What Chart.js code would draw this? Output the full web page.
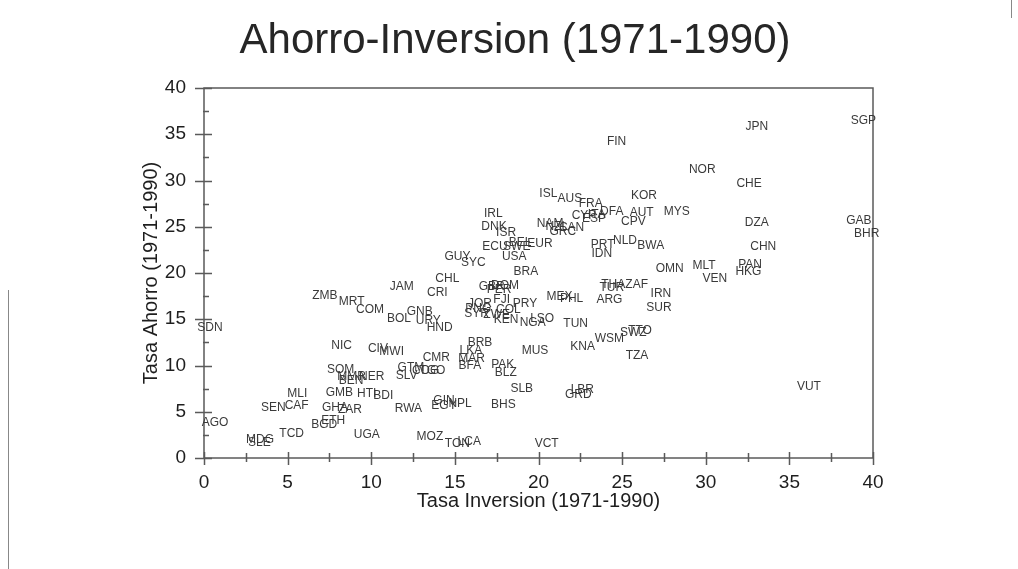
<!DOCTYPE html>
<html>
<head>
<meta charset="utf-8">
<script src="https://cdn.jsdelivr.net/npm/chart.js@4/dist/chart.umd.min.js"></script>
<style>
  html, body { margin: 0; padding: 0; background: #fff; }
  #wrap { position: relative; width: 1018px; height: 569px; }
  canvas { display: block; }
</style>
</head>
<body>
<div id="wrap"><canvas id="c" width="1018" height="569"></canvas></div>
<script>
// ---- data ----
const chartTitle = 'Ahorro-Inversion (1971-1990)';
const xTitle = 'Tasa Inversion (1971-1990)';
const yTitle = 'Tasa Ahorro (1971-1990)';
const xTicks = [0, 5, 10, 15, 20, 25, 30, 35, 40];
const yTicks = [0, 5, 10, 15, 20, 25, 30, 35, 40];

const countries = [
  'SGP','JPN','FIN','NOR','CHE','KOR','ISL','AUS','FRA','MYS',
  'DFA','AUT','CYP','ITA','ESP','CPV','GAB','BHR','DZA','IRL',
  'DNK','ISR','NAM','NZL','CAN','GRC','PRT','NLD','BWA','IDN',
  'CHN','ECU','SWE','BEL','EUR','USA','GUY','SYC','BRA','OMN',
  'MLT','PAN','HKG','VEN','CHL','JAM','CRI','GBR','DOM','PER',
  'THA','TUR','ZAF','IRN','ZMB','MRT','COM','GNB','BOL','URY',
  'HND','FJI','PRY','MEX','PHL','ARG','SUR','JOR','PNG','COL',
  'SYR','ZWE','KEN','NGA','LSO','TUN','SDN','TTO','SWZ','WSM',
  'KNA','TZA','NIC','CIV','MWI','BRB','LKA','MUS','CMR','MAR',
  'BFA','PAK','BLZ','GTM','COG','TGO','SLV','SOM','MMR','BEN',
  'NER','SLB','LBR','GRD','VUT','MLI','GMB','HTI','BDI','CAF',
  'SEN','GHA','ZAR','RWA','GIN','EGY','NPL','BHS','ETH','BGD',
  'AGO','TCD','UGA','MOZ','TON','LCA','VCT','MDG','SLE'
];
const inversion = [
  39.42,33.05,24.67,29.79,32.59,26.31,20.59,21.88,23.12,28.26,
  24.38,26.17,22.72,23.48,23.32,25.67,39.16,39.62,33.05,17.30,
  17.34,18.06,20.69,21.09,21.98,21.45,23.84,25.17,26.71,23.78,
  33.44,17.40,18.70,18.90,20.09,18.55,15.15,16.10,19.25,27.84,
  29.90,32.65,32.55,30.55,14.55,11.82,13.95,17.20,18.00,17.64,
  24.47,24.38,25.87,27.32,7.23,8.83,9.93,12.90,11.66,13.41,
  14.09,17.80,19.19,21.25,21.98,24.24,27.20,16.50,16.40,18.20,
  16.30,17.50,18.06,19.65,20.22,22.22,0.36,26.07,25.67,24.24,
  22.64,25.89,8.23,10.40,11.22,16.50,15.96,19.79,13.89,16.00,
  15.90,17.86,18.04,12.37,13.25,13.65,12.12,8.17,8.83,8.79,
  10.03,19.00,22.62,22.38,36.17,5.58,8.09,9.73,10.72,5.54,
  4.14,7.83,8.73,12.22,14.35,14.35,15.31,17.90,7.73,7.19,
  0.66,5.24,9.73,13.51,15.15,15.86,20.49,3.35,3.31
];
const ahorro = [
  36.47,35.82,34.20,31.14,29.69,28.36,28.54,28.00,27.53,26.63,
  26.63,26.52,26.20,26.34,25.84,25.55,25.66,24.29,25.44,26.38,
  25.01,24.40,25.37,25.01,24.94,24.43,23.03,23.49,22.92,22.05,
  22.85,22.85,22.85,23.28,23.14,21.76,21.76,21.11,20.14,20.50,
  20.79,20.86,20.14,19.35,19.42,18.52,17.87,18.52,18.60,18.16,
  18.75,18.45,18.78,17.73,17.51,16.90,16.00,15.85,15.03,14.84,
  14.13,17.15,16.72,17.44,17.19,17.15,16.29,16.72,16.18,16.07,
  15.57,15.46,14.99,14.63,15.05,14.56,14.09,13.77,13.59,12.94,
  12.04,11.05,12.14,11.78,11.49,12.51,11.60,11.57,10.87,10.77,
  9.98,10.13,9.22,9.75,9.45,9.45,8.92,9.59,8.79,8.36,
  8.79,7.53,7.35,6.88,7.71,6.92,7.06,6.92,6.74,5.66,
  5.48,5.48,5.26,5.33,6.20,5.69,5.91,5.73,4.04,3.64,
  3.82,2.67,2.56,2.31,1.51,1.77,1.51,2.02,1.70
];

// ---- styling ----
const FONT = "'Liberation Sans', Arial, Helvetica, sans-serif";
const AXIS_COLOR = '#5a5a5a';
const TEXT_COLOR = '#1e1e1e';
const LABEL_COLOR = '#3a3a3a';

const pointData = countries.map((c, i) => ({ x: inversion[i], y: ahorro[i] }));

const decorPlugin = {
  id: 'decor',
  afterDraw(chart) {
    const ctx = chart.ctx;
    const a = chart.chartArea;
    const xs = chart.scales.x, ys = chart.scales.y;
    ctx.save();
    // frame box
    ctx.strokeStyle = AXIS_COLOR;
    ctx.lineWidth = 1.5;
    ctx.strokeRect(a.left, a.top, a.right - a.left, a.bottom - a.top);
    // y ticks (major + minor)
    ctx.beginPath();
    for (let v = ys.min; v <= ys.max + 1e-9; v += 2.5) {
      const py = Math.round(ys.getPixelForValue(v)) + 0.5;
      const major = Math.abs(v % 5) < 1e-9;
      ctx.moveTo(a.left - (major ? 9 : 1), py);
      ctx.lineTo(a.left + (major ? 8 : 5), py);
    }
    // x ticks (major + minor)
    for (let v = xs.min; v <= xs.max + 1e-9; v += 2.5) {
      const px = Math.round(xs.getPixelForValue(v)) + 0.5;
      const major = Math.abs(v % 5) < 1e-9;
      ctx.moveTo(px, a.bottom - (major ? 6 : 5));
      ctx.lineTo(px, a.bottom + (major ? 7 : 4));
    }
    ctx.stroke();
    // point labels at each data point
    const meta = chart.getDatasetMeta(0);
    ctx.font = '12px ' + FONT;
    ctx.fillStyle = LABEL_COLOR;
    ctx.textAlign = 'center';
    ctx.textBaseline = 'middle';
    meta.data.forEach((el, i) => {
      ctx.fillText(countries[i], el.x, el.y);
    });
    // main title
    ctx.font = '42px ' + FONT;
    ctx.fillStyle = '#262626';
    ctx.fillText(chartTitle, 515, 41);
    // outer page frame fragments
    ctx.strokeStyle = '#888';
    ctx.lineWidth = 1;
    ctx.beginPath();
    ctx.moveTo(8.5, 290); ctx.lineTo(8.5, 569);
    ctx.moveTo(1011.5, 0); ctx.lineTo(1011.5, 18);
    ctx.stroke();
    ctx.restore();
  }
};

new Chart(document.getElementById('c'), {
  type: 'scatter',
  data: {
    datasets: [{
      data: pointData,
      pointRadius: 0,
      pointHoverRadius: 0,
      showLine: false
    }]
  },
  options: {
    responsive: false,
    animation: false,
    events: [],
    layout: { padding: { left: 139, right: 145, top: 88, bottom: 53 } },
    plugins: {
      legend: { display: false },
      tooltip: { enabled: false },
      title: { display: false }
    },
    scales: {
      x: {
        type: 'linear',
        min: xTicks[0],
        max: xTicks[xTicks.length - 1],
        afterFit(s) { s.height = 58; },
        afterBuildTicks(s) { s.ticks = xTicks.map(v => ({ value: v })); },
        grid: { display: false, drawTicks: false },
        border: { display: false },
        ticks: { padding: 13, color: TEXT_COLOR, font: { family: FONT, size: 19 } },
        title: {
          display: true, text: xTitle, color: TEXT_COLOR,
          font: { family: FONT, size: 20 },
          padding: { top: 0, bottom: 3 }
        }
      },
      y: {
        type: 'linear',
        min: yTicks[0],
        max: yTicks[yTicks.length - 1],
        afterFit(s) { s.width = 65; },
        afterBuildTicks(s) { s.ticks = yTicks.map(v => ({ value: v })); },
        grid: { display: false, drawTicks: false },
        border: { display: false },
        ticks: { padding: 18, color: TEXT_COLOR, font: { family: FONT, size: 19 } },
        title: {
          display: true, text: yTitle, color: TEXT_COLOR,
          font: { family: FONT, size: 20 },
          padding: { top: 0, bottom: 0 }
        }
      }
    }
  },
  plugins: [decorPlugin]
});
</script>
</body>
</html>
